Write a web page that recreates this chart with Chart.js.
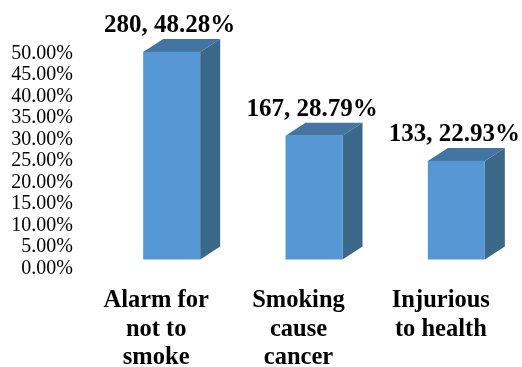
<!DOCTYPE html>
<html>
<head>
<meta charset="utf-8">
<script src="https://cdn.jsdelivr.net/npm/chart.js@4.4.1/dist/chart.umd.min.js"></script>
<style>
  html, body { margin: 0; padding: 0; background: #fff; }
  #wrap { width: 522px; height: 367px; position: relative; }
</style>
</head>
<body>
<div id="wrap"><canvas id="chart"></canvas></div>
<script>
// --- datos ---
const categories = [['Alarm for', 'not to', 'smoke'], ['Smoking', 'cause', 'cancer'], ['Injurious', 'to health']];
const counts = [280, 167, 133];
const shares = [0.4828, 0.2879, 0.2293];
const yTicks = [0, 0.05, 0.10, 0.15, 0.20, 0.25, 0.30, 0.35, 0.40, 0.45, 0.50];

// --- estilo 3D ---
const FRONT = '#5597D3';
const TOP = '#4475A2';
const SIDE = '#3B6788';
const BAR_W = 57;
const DEPTH_X = 20;
const DEPTH_Y = 13;
const SHIFT = 15.5;
const SERIF = '"Liberation Serif", "Times New Roman", serif';

// Dibuja las barras como cajas con profundidad
const box3d = {
    id: 'box3d',
    afterDatasetsDraw(chart) {
        const { ctx, scales: { x, y } } = chart;
        const base = y.getPixelForValue(0);
        ctx.save();
        shares.forEach((v, i) => {
            const cx = x.getPixelForValue(i) + SHIFT;
            const x0 = cx - BAR_W / 2;
            const x1 = cx + BAR_W / 2;
            const top = y.getPixelForValue(v);

            ctx.fillStyle = SIDE;
            ctx.beginPath();
            ctx.moveTo(x1, top);
            ctx.lineTo(x1 + DEPTH_X, top - DEPTH_Y);
            ctx.lineTo(x1 + DEPTH_X, base - DEPTH_Y);
            ctx.lineTo(x1, base);
            ctx.closePath();
            ctx.fill();

            ctx.fillStyle = TOP;
            ctx.beginPath();
            ctx.moveTo(x0, top);
            ctx.lineTo(x0 + DEPTH_X, top - DEPTH_Y);
            ctx.lineTo(x1 + DEPTH_X, top - DEPTH_Y);
            ctx.lineTo(x1, top);
            ctx.closePath();
            ctx.fill();

            ctx.fillStyle = FRONT;
            ctx.fillRect(x0, top, BAR_W, base - top);

            // etiqueta de valor
            ctx.fillStyle = '#000';
            ctx.font = 'bold 25px ' + SERIF;
            ctx.textAlign = 'center';
            ctx.textBaseline = 'middle';
            ctx.fillText(`${counts[i]}, ${(v * 100).toFixed(2)}%`, cx - 2, top - 26);
        });
        ctx.restore();
    }
};

new Chart(document.querySelector('#chart'), {
    type: 'bar',
    data: {
        labels: categories,
        datasets: [{
            data: shares,
            backgroundColor: 'rgba(0,0,0,0)',
            borderWidth: 0
        }]
    },
    options: {
        responsive: true,
        maintainAspectRatio: false,
        animation: false,
        layout: { padding: { top: 44.5, left: 0, right: 10, bottom: 0 } },
        plugins: { legend: { display: false }, tooltip: { enabled: false } },
        scales: {
            x: {
                grid: { display: false, drawTicks: false },
                border: { display: false },
                ticks: {
                    color: '#000',
                    padding: 27,
                    maxRotation: 0,
                    autoSkip: false,
                    font: { family: SERIF, size: 24.5, weight: 'bold', lineHeight: 1.17 }
                },
                afterFit: (scale) => { scale.height = 107.5; }
            },
            y: {
                min: 0,
                max: 0.5,
                grid: { display: false, drawTicks: false },
                border: { display: false },
                afterBuildTicks: (scale) => { scale.ticks = yTicks.map(v => ({ value: v })); },
                ticks: {
                    color: '#000',
                    padding: 12,
                    labelOffset: 9,
                    autoSkip: false,
                    font: { family: SERIF, size: 20 },
                    callback: (v) => (v * 100).toFixed(2) + '%'
                },
                afterFit: (scale) => { scale.width = 85; }
            }
        }
    },
    plugins: [box3d]
});
</script>
</body>
</html>
